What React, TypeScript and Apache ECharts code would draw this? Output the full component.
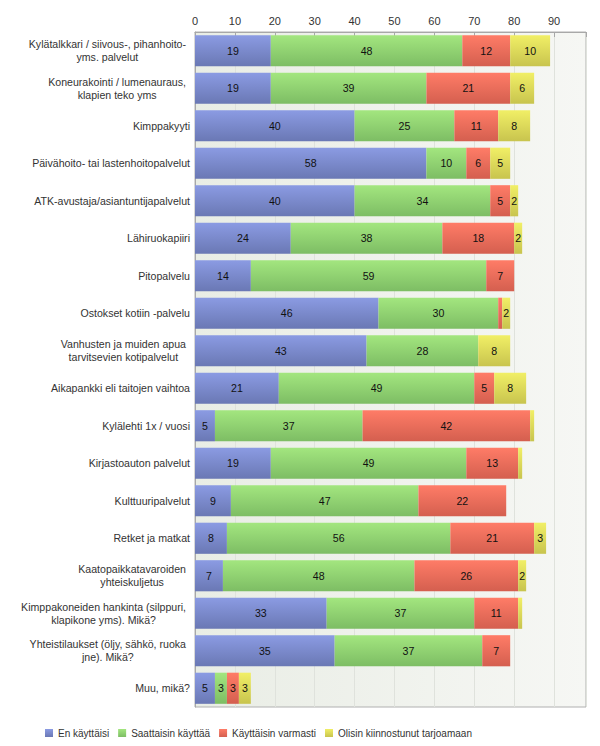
import React, { useEffect, useRef } from "react";
import * as echarts from "echarts";

const categories: string[] = [
  "Kylätalkkari / siivous-, pihanhoito-\nyms. palvelut",
  "Koneurakointi / lumenauraus,\nklapien teko yms",
  "Kimppakyyti",
  "Päivähoito- tai lastenhoitopalvelut",
  "ATK-avustaja/asiantuntijapalvelut",
  "Lähiruokapiiri",
  "Pitopalvelu",
  "Ostokset kotiin -palvelu",
  "Vanhusten ja muiden apua\ntarvitsevien kotipalvelut",
  "Aikapankki eli taitojen vaihtoa",
  "Kylälehti 1x / vuosi",
  "Kirjastoauton palvelut",
  "Kulttuuripalvelut",
  "Retket ja matkat",
  "Kaatopaikkatavaroiden\nyhteiskuljetus",
  "Kimppakoneiden hankinta (silppuri,\nklapikone yms). Mikä?",
  "Yhteistilaukset (öljy, sähkö, ruoka\njne). Mikä?",
  "Muu, mikä?",
];

const seriesNames: string[] = [
  "En käyttäisi",
  "Saattaisin käyttää",
  "Käyttäisin varmasti",
  "Olisin kiinnostunut tarjoamaan",
];

const enKayttaisi: number[] = [19, 19, 40, 58, 40, 24, 14, 46, 43, 21, 5, 19, 9, 8, 7, 33, 35, 5];
const saattaisin: number[] = [48, 39, 25, 10, 34, 38, 59, 30, 28, 49, 37, 49, 47, 56, 48, 37, 37, 3];
const varmasti: number[] = [12, 21, 11, 6, 5, 18, 7, 1, 0, 5, 42, 13, 22, 21, 26, 11, 7, 3];
const tarjoamaan: number[] = [10, 6, 8, 5, 2, 2, 0, 2, 8, 8, 1, 1, 0, 3, 2, 1, 0, 3];

const xTicks: number[] = [0, 10, 20, 30, 40, 50, 60, 70, 80, 90];

const seriesData: number[][] = [enKayttaisi, saattaisin, varmasti, tarjoamaan];

const gradients: [string, string][] = [
  ["#8b9be3", "#6a78b4"],
  ["#a3e67f", "#7dbd64"],
  ["#ff7c67", "#d45f4f"],
  ["#f1ef66", "#c8c44e"],
];

export default function App() {
  const ref = useRef<HTMLDivElement>(null);
  useEffect(() => {
    if (!ref.current) return;
    const chart = echarts.init(ref.current, undefined, { renderer: "svg" });
    const font = "'Liberation Sans', Arial, sans-serif";
    chart.setOption({
      animation: false,
      textStyle: { fontFamily: font },
      legend: {
        top: 728,
        left: 45,
        padding: 0,
        itemWidth: 8,
        itemHeight: 8,
        itemGap: 9,
        icon: "rect",
        textStyle: { fontSize: 10, color: "#333", fontFamily: font },
        data: seriesNames,
      },
      grid: {
        left: 195,
        right: 14,
        top: 32,
        bottom: 39,
        show: true,
        borderColor: "#b0b0b0",
        borderWidth: 1,
        backgroundColor: new echarts.graphic.LinearGradient(0, 0, 1, 0, [
          { offset: 0, color: "#e9ede5" },
          { offset: 1, color: "#f6f7f4" },
        ]),
      },
      xAxis: {
        type: "value",
        position: "top",
        min: 0,
        max: 98,
        interval: 10,
        axisLine: { show: true, lineStyle: { color: "#a8a8a8" } },
        axisTick: { show: true, inside: true, length: 5, lineStyle: { color: "#a8a8a8" } },
        splitLine: { show: true, lineStyle: { color: "#dfe2dc" } },
        axisLabel: {
          margin: 6,
          fontSize: 11,
          color: "#333",
          fontFamily: font,
          formatter: (v: number) => (xTicks.includes(v) ? String(v) : ""),
        },
      },
      yAxis: {
        type: "category",
        inverse: true,
        data: categories,
        axisLine: { show: true, lineStyle: { color: "#a8a8a8" } },
        axisTick: { show: false },
        axisLabel: {
          margin: 5,
          fontSize: 10.6,
          color: "#333",
          fontFamily: font,
          lineHeight: 13,
          formatter: (v: string) => {
            const lines = v.split("\n");
            if (lines.length === 1) return v;
            return lines.map((l) => `{c|${l}}`).join("\n");
          },
          rich: {
            c: {
              align: "center",
              fontSize: 10.6,
              color: "#333",
              fontFamily: font,
              lineHeight: 13,
              padding: [0, 4, 0, 0],
            },
          },
        },
      },
      series: seriesNames.map((name, i) => ({
        name,
        type: "bar",
        stack: "total",
        barCategoryGap: "17%",
        data: seriesData[i],
        itemStyle: {
          color: new echarts.graphic.LinearGradient(0, 0, 0, 1, [
            { offset: 0, color: gradients[i][0] },
            { offset: 1, color: gradients[i][1] },
          ]),
        },
        label: {
          show: true,
          position: "inside",
          color: "#111",
          fontSize: 10.6,
          fontFamily: font,
          formatter: (p: any) => (p.value >= 2 ? String(p.value) : ""),
        },
      })),
    });
    return () => chart.dispose();
  }, []);
  return <div ref={ref} style={{ width: 600, height: 746, position: "absolute", left: 0, top: 0 }} />;
}
